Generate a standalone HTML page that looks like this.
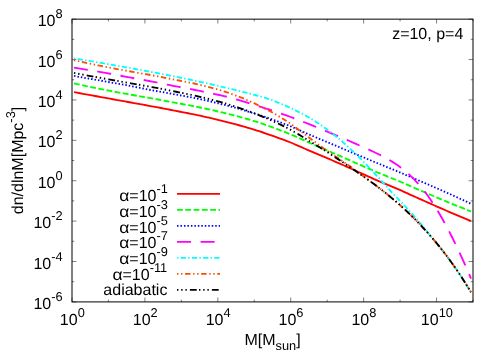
<!DOCTYPE html>
<html><head><meta charset="utf-8"><title>plot</title>
<style>
html,body{margin:0;padding:0;background:#fff;}
body{width:500px;height:350px;overflow:hidden;font-family:"Liberation Sans",sans-serif;}
svg{display:block;will-change:transform;}
text{font-family:"Liberation Sans",sans-serif;fill:#000;text-rendering:geometricPrecision;}
</style></head><body>
<svg width="500" height="350" viewBox="0 0 500 350">
<rect x="0" y="0" width="500" height="350" fill="#fff"/>
<path d="M72.00,301.90 v-4.40 M72.00,19.15 v4.40 M108.45,301.90 v-2.30 M108.45,19.15 v2.30 M144.91,301.90 v-4.40 M144.91,19.15 v4.40 M181.36,301.90 v-2.30 M181.36,19.15 v2.30 M217.82,301.90 v-4.40 M217.82,19.15 v4.40 M254.27,301.90 v-2.30 M254.27,19.15 v2.30 M290.73,301.90 v-4.40 M290.73,19.15 v4.40 M327.18,301.90 v-2.30 M327.18,19.15 v2.30 M363.64,301.90 v-4.40 M363.64,19.15 v4.40 M400.09,301.90 v-2.30 M400.09,19.15 v2.30 M436.55,301.90 v-4.40 M436.55,19.15 v4.40 M473.00,301.90 v-2.30 M473.00,19.15 v2.30 M72.00,19.15 h4.40 M473.00,19.15 h-4.40 M72.00,39.35 h2.30 M473.00,39.35 h-2.30 M72.00,59.54 h4.40 M473.00,59.54 h-4.40 M72.00,79.74 h2.30 M473.00,79.74 h-2.30 M72.00,99.94 h4.40 M473.00,99.94 h-4.40 M72.00,120.13 h2.30 M473.00,120.13 h-2.30 M72.00,140.33 h4.40 M473.00,140.33 h-4.40 M72.00,160.53 h2.30 M473.00,160.53 h-2.30 M72.00,180.72 h4.40 M473.00,180.72 h-4.40 M72.00,200.92 h2.30 M473.00,200.92 h-2.30 M72.00,221.11 h4.40 M473.00,221.11 h-4.40 M72.00,241.31 h2.30 M473.00,241.31 h-2.30 M72.00,261.51 h4.40 M473.00,261.51 h-4.40 M72.00,281.70 h2.30 M473.00,281.70 h-2.30 M72.00,301.90 h4.40 M473.00,301.90 h-4.40" stroke="#000" stroke-width="0.5" fill="none"/>
<clipPath id="c"><rect x="72.00" y="19.15" width="401.00" height="282.75"/></clipPath>
<g clip-path="url(#c)" fill="none" stroke-linecap="butt" stroke-linejoin="round">
<path d="M74.00,92.12 L77.00,92.70 L80.00,93.26 L83.00,93.82 L86.00,94.37 L89.00,94.92 L92.00,95.46 L95.00,95.99 L98.00,96.52 L101.00,97.05 L104.00,97.61 L107.00,98.16 L110.00,98.71 L113.00,99.26 L116.00,99.80 L119.00,100.34 L122.00,100.89 L125.00,101.43 L128.00,101.97 L131.00,102.51 L134.00,103.05 L137.00,103.60 L140.00,104.14 L143.00,104.69 L146.00,105.24 L149.00,105.80 L152.00,106.35 L155.00,106.90 L158.00,107.46 L161.00,108.02 L164.00,108.59 L167.00,109.17 L170.00,109.75 L173.00,110.34 L176.00,110.92 L179.00,111.49 L182.00,112.06 L185.00,112.65 L188.00,113.24 L191.00,113.84 L194.00,114.46 L197.00,115.08 L200.00,115.72 L203.00,116.38 L206.00,117.04 L209.00,117.72 L212.00,118.41 L215.00,119.12 L218.00,119.84 L221.00,120.58 L224.00,121.33 L227.00,122.09 L230.00,122.85 L233.00,123.63 L236.00,124.43 L239.00,125.25 L242.00,126.08 L245.00,126.94 L248.00,127.81 L251.00,128.71 L254.00,129.62 L257.00,130.54 L260.00,131.49 L263.00,132.50 L266.00,133.52 L269.00,134.56 L272.00,135.61 L275.00,136.68 L278.00,137.76 L281.00,138.86 L284.00,139.98 L287.00,141.10 L290.00,142.24 L293.00,143.52 L296.00,144.80 L299.00,146.10 L302.00,147.41 L305.00,148.74 L308.00,150.07 L311.00,151.38 L314.00,152.62 L317.00,153.87 L320.00,155.13 L323.00,156.40 L326.00,157.68 L329.00,158.96 L332.00,160.26 L335.00,161.56 L338.00,162.87 L341.00,164.19 L344.00,165.52 L347.00,166.85 L350.00,168.18 L353.00,169.53 L356.00,170.87 L359.00,172.22 L362.00,173.58 L365.00,174.94 L368.00,176.30 L371.00,177.67 L374.00,179.04 L377.00,180.33 L380.00,181.58 L383.00,182.83 L386.00,184.08 L389.00,185.33 L392.00,186.58 L395.00,187.83 L398.00,189.08 L401.00,190.45 L404.00,191.81 L407.00,193.18 L410.00,194.54 L413.00,195.89 L416.00,197.25 L419.00,198.60 L422.00,199.94 L425.00,201.28 L428.00,202.62 L431.00,203.95 L434.00,205.27 L437.00,206.59 L440.00,207.90 L443.00,209.20 L446.00,210.50 L449.00,211.79 L452.00,213.07 L455.00,214.34 L458.00,215.60 L461.00,216.85 L464.00,218.09 L467.00,219.32 L470.00,220.54 L471.00,220.94" stroke="#ff0000" stroke-width="1.85"/>
<path d="M74.00,83.40 L77.00,84.09 L80.00,84.76 L83.00,85.42 L86.00,86.06 L89.00,86.69 L92.00,87.30 L95.00,87.90 L98.00,88.49 L101.00,89.08 L104.00,89.68 L107.00,90.27 L110.00,90.86 L113.00,91.43 L116.00,92.00 L119.00,92.56 L122.00,93.11 L125.00,93.66 L128.00,94.19 L131.00,94.72 L134.00,95.25 L137.00,95.77 L140.00,96.29 L143.00,96.81 L146.00,97.33 L149.00,97.85 L152.00,98.39 L155.00,98.95 L158.00,99.51 L161.00,100.08 L164.00,100.65 L167.00,101.22 L170.00,101.80 L173.00,102.39 L176.00,102.96 L179.00,103.49 L182.00,104.03 L185.00,104.58 L188.00,105.14 L191.00,105.71 L194.00,106.30 L197.00,106.89 L200.00,107.50 L203.00,108.12 L206.00,108.76 L209.00,109.42 L212.00,110.09 L215.00,110.77 L218.00,111.48 L221.00,112.20 L224.00,112.94 L227.00,113.67 L230.00,114.40 L233.00,115.15 L236.00,115.92 L239.00,116.71 L242.00,117.53 L245.00,118.37 L248.00,119.24 L251.00,120.13 L254.00,121.04 L257.00,121.97 L260.00,122.92 L263.00,123.96 L266.00,125.01 L269.00,126.09 L272.00,127.18 L275.00,128.29 L278.00,129.42 L281.00,130.56 L284.00,131.72 L287.00,132.89 L290.00,134.07 L293.00,135.39 L296.00,136.72 L299.00,138.06 L302.00,139.41 L305.00,140.77 L308.00,142.14 L311.00,143.48 L314.00,144.75 L317.00,146.03 L320.00,147.32 L323.00,148.61 L326.00,149.90 L329.00,151.21 L332.00,152.51 L335.00,153.82 L338.00,155.13 L341.00,156.44 L344.00,157.76 L347.00,159.08 L350.00,160.40 L353.00,161.73 L356.00,163.05 L359.00,164.38 L362.00,165.70 L365.00,167.03 L368.00,168.36 L371.00,169.69 L374.00,171.02 L377.00,172.27 L380.00,173.48 L383.00,174.68 L386.00,175.89 L389.00,177.09 L392.00,178.30 L395.00,179.50 L398.00,180.70 L401.00,182.01 L404.00,183.33 L407.00,184.64 L410.00,185.94 L413.00,187.25 L416.00,188.55 L419.00,189.85 L422.00,191.14 L425.00,192.43 L428.00,193.71 L431.00,194.99 L434.00,196.27 L437.00,197.54 L440.00,198.80 L443.00,200.06 L446.00,201.31 L449.00,202.56 L452.00,203.80 L455.00,205.03 L458.00,206.26 L461.00,207.48 L464.00,208.69 L467.00,209.90 L470.00,211.09 L471.00,211.49" stroke="#00ff00" stroke-width="1.85" stroke-dasharray="5.8 2.5" stroke-dashoffset="0"/>
<path d="M74.00,75.94 L77.00,76.49 L80.00,77.04 L83.00,77.58 L86.00,78.11 L89.00,78.63 L92.00,79.15 L95.00,79.66 L98.00,80.17 L101.00,80.68 L104.00,81.22 L107.00,81.75 L110.00,82.28 L113.00,82.81 L116.00,83.33 L119.00,83.86 L122.00,84.38 L125.00,84.90 L128.00,85.50 L131.00,86.10 L134.00,86.69 L137.00,87.29 L140.00,87.90 L143.00,88.50 L146.00,89.11 L149.00,89.73 L152.00,90.27 L155.00,90.79 L158.00,91.31 L161.00,91.84 L164.00,92.37 L167.00,92.92 L170.00,93.47 L173.00,94.03 L176.00,94.58 L179.00,95.11 L182.00,95.65 L185.00,96.20 L188.00,96.76 L191.00,97.33 L194.00,97.91 L197.00,98.51 L200.00,99.12 L203.00,99.77 L206.00,100.44 L209.00,101.12 L212.00,101.81 L215.00,102.52 L218.00,103.25 L221.00,103.99 L224.00,104.75 L227.00,105.53 L230.00,106.33 L233.00,107.14 L236.00,107.98 L239.00,108.84 L242.00,109.72 L245.00,110.61 L248.00,111.53 L251.00,112.46 L254.00,113.38 L257.00,114.32 L260.00,115.28 L263.00,116.25 L266.00,117.24 L269.00,118.25 L272.00,119.31 L275.00,120.41 L278.00,121.52 L281.00,122.64 L284.00,123.78 L287.00,124.93 L290.00,126.09 L293.00,127.38 L296.00,128.69 L299.00,130.00 L302.00,131.32 L305.00,132.66 L308.00,134.00 L311.00,135.31 L314.00,136.54 L317.00,137.78 L320.00,139.03 L323.00,140.29 L326.00,141.55 L329.00,142.81 L332.00,144.08 L335.00,145.35 L338.00,146.62 L341.00,147.90 L344.00,149.17 L347.00,150.46 L350.00,151.74 L353.00,152.99 L356.00,154.24 L359.00,155.49 L362.00,156.75 L365.00,158.00 L368.00,159.26 L371.00,160.51 L374.00,161.77 L377.00,163.01 L380.00,164.24 L383.00,165.46 L386.00,166.69 L389.00,167.91 L392.00,169.14 L395.00,170.36 L398.00,171.58 L401.00,172.87 L404.00,174.15 L407.00,175.43 L410.00,176.71 L413.00,178.00 L416.00,179.28 L419.00,180.56 L422.00,181.85 L425.00,183.14 L428.00,184.44 L431.00,185.73 L434.00,187.04 L437.00,188.35 L440.00,189.66 L443.00,190.99 L446.00,192.32 L449.00,193.66 L452.00,195.01 L455.00,196.37 L458.00,197.74 L461.00,199.12 L464.00,200.51 L467.00,201.92 L470.00,203.34 L471.00,203.82" stroke="#0000ff" stroke-width="1.85" stroke-dasharray="1.5 1.975" stroke-dashoffset="0"/>
<path d="M74.00,67.67 L77.00,68.15 L80.00,68.64 L83.00,69.12 L86.00,69.60 L89.00,70.08 L92.00,70.57 L95.00,71.05 L98.00,71.54 L101.00,72.05 L104.00,72.61 L107.00,73.17 L110.00,73.74 L113.00,74.30 L116.00,74.87 L119.00,75.45 L122.00,76.02 L125.00,76.60 L128.00,77.14 L131.00,77.68 L134.00,78.22 L137.00,78.77 L140.00,79.32 L143.00,79.88 L146.00,80.44 L149.00,81.01 L152.00,81.59 L155.00,82.17 L158.00,82.76 L161.00,83.35 L164.00,83.95 L167.00,84.56 L170.00,85.17 L173.00,85.80 L176.00,86.39 L179.00,86.93 L182.00,87.48 L185.00,88.04 L188.00,88.60 L191.00,89.18 L194.00,89.76 L197.00,90.35 L200.00,90.96 L203.00,91.57 L206.00,92.19 L209.00,92.83 L212.00,93.47 L215.00,94.13 L218.00,94.75 L221.00,95.39 L224.00,96.03 L227.00,96.79 L230.00,97.62 L233.00,98.46 L236.00,99.31 L239.00,100.17 L242.00,101.05 L245.00,101.94 L248.00,102.84 L251.00,103.76 L254.00,104.70 L257.00,105.64 L260.00,106.61 L263.00,107.55 L266.00,108.51 L269.00,109.49 L272.00,110.48 L275.00,111.48 L278.00,112.51 L281.00,113.54 L284.00,114.60 L287.00,115.67 L290.00,116.75 L293.00,117.87 L296.00,119.00 L299.00,120.15 L302.00,121.31 L305.00,122.49 L308.00,123.67 L311.00,124.87 L314.00,126.09 L317.00,127.31 L320.00,128.55 L323.00,129.80 L326.00,131.06 L329.00,132.34 L332.00,133.59 L335.00,134.85 L338.00,136.11 L341.00,137.38 L344.00,138.67 L347.00,139.96 L350.00,141.27 L353.00,142.58 L356.00,143.90 L359.00,145.23 L362.00,146.57 L365.00,147.92 L368.00,149.28 L371.00,150.65 L374.00,152.03 L377.00,153.46 L380.00,154.94 L383.00,156.49 L386.00,158.10 L389.00,159.81 L392.00,161.61 L395.00,163.53 L398.00,165.57 L401.00,167.76 L404.00,170.10 L407.00,172.61 L410.00,175.30 L413.00,178.19 L416.00,181.28 L419.00,184.60 L422.00,188.16 L425.00,191.96 L428.00,196.02 L431.00,200.34 L434.00,204.90 L437.00,209.70 L440.00,214.73 L443.00,219.98 L446.00,225.45 L449.00,231.13 L452.00,237.01 L455.00,243.09 L458.00,249.36 L461.00,255.81 L464.00,262.44 L467.00,269.23 L470.00,276.18 L471.00,278.54" stroke="#ff00ff" stroke-width="1.85" stroke-dasharray="14 9.6" stroke-dashoffset="0"/>
<path d="M74.00,58.34 L77.00,58.84 L80.00,59.35 L83.00,59.86 L86.00,60.37 L89.00,60.89 L92.00,61.40 L95.00,61.91 L98.00,62.43 L101.00,62.94 L104.00,63.46 L107.00,63.98 L110.00,64.50 L113.00,65.03 L116.00,65.56 L119.00,66.08 L122.00,66.62 L125.00,67.15 L128.00,67.69 L131.00,68.23 L134.00,68.77 L137.00,69.32 L140.00,69.87 L143.00,70.42 L146.00,70.98 L149.00,71.54 L152.00,72.11 L155.00,72.67 L158.00,73.25 L161.00,73.83 L164.00,74.41 L167.00,75.00 L170.00,75.59 L173.00,76.19 L176.00,76.79 L179.00,77.40 L182.00,78.02 L185.00,78.64 L188.00,79.26 L191.00,79.89 L194.00,80.53 L197.00,81.18 L200.00,81.83 L203.00,82.48 L206.00,83.15 L209.00,83.82 L212.00,84.50 L215.00,85.18 L218.00,85.88 L221.00,86.58 L224.00,87.28 L227.00,88.00 L230.00,88.72 L233.00,89.46 L236.00,90.20 L239.00,90.94 L242.00,91.70 L245.00,92.47 L248.00,93.25 L251.00,94.02 L254.00,94.76 L257.00,95.52 L260.00,96.30 L263.00,97.11 L266.00,98.02 L269.00,99.09 L272.00,100.19 L275.00,101.33 L278.00,102.52 L281.00,103.75 L284.00,105.03 L287.00,106.35 L290.00,107.74 L293.00,109.18 L296.00,110.65 L299.00,112.13 L302.00,113.67 L305.00,115.28 L308.00,116.97 L311.00,118.72 L314.00,120.55 L317.00,122.46 L320.00,124.44 L323.00,126.50 L326.00,128.64 L329.00,130.86 L332.00,133.16 L335.00,135.53 L338.00,137.99 L341.00,140.53 L344.00,143.15 L347.00,145.85 L350.00,148.63 L353.00,151.41 L356.00,154.26 L359.00,157.19 L362.00,160.18 L365.00,163.24 L368.00,166.36 L371.00,169.54 L374.00,172.78 L377.00,176.01 L380.00,179.27 L383.00,182.56 L386.00,185.91 L389.00,189.30 L392.00,192.72 L395.00,195.73 L398.00,198.79 L401.00,201.90 L404.00,205.07 L407.00,208.30 L410.00,211.59 L413.00,214.94 L416.00,218.37 L419.00,221.86 L422.00,225.44 L425.00,229.10 L428.00,232.84 L431.00,236.53 L434.00,240.03 L437.00,243.63 L440.00,247.33 L443.00,251.13 L446.00,255.03 L449.00,259.05 L452.00,263.18 L455.00,267.43 L458.00,271.80 L461.00,276.30 L464.00,280.92 L467.00,285.68 L470.00,290.57 L471.00,292.23" stroke="#00ffff" stroke-width="1.85" stroke-dasharray="5.2 2.3 1.4 2.3" stroke-dashoffset="7.5"/>
<path d="M74.00,60.16 L77.00,60.87 L80.00,61.56 L83.00,62.22 L86.00,62.87 L89.00,63.50 L92.00,64.12 L95.00,64.71 L98.00,65.30 L101.00,65.88 L104.00,66.49 L107.00,67.08 L110.00,67.66 L113.00,68.24 L116.00,68.80 L119.00,69.36 L122.00,69.92 L125.00,70.47 L128.00,71.00 L131.00,71.53 L134.00,72.06 L137.00,72.59 L140.00,73.12 L143.00,73.65 L146.00,74.19 L149.00,74.73 L152.00,75.28 L155.00,75.83 L158.00,76.39 L161.00,76.96 L164.00,77.54 L167.00,78.13 L170.00,78.73 L173.00,79.35 L176.00,79.94 L179.00,80.49 L182.00,81.06 L185.00,81.64 L188.00,82.25 L191.00,82.87 L194.00,83.51 L197.00,84.18 L200.00,84.87 L203.00,85.59 L206.00,86.33 L209.00,87.09 L212.00,87.89 L215.00,88.71 L218.00,89.57 L221.00,90.45 L224.00,91.37 L227.00,92.36 L230.00,93.41 L233.00,94.49 L236.00,95.61 L239.00,96.76 L242.00,97.96 L245.00,99.19 L248.00,100.47 L251.00,101.79 L254.00,103.15 L257.00,104.56 L260.00,106.02 L263.00,107.52 L266.00,109.07 L269.00,110.66 L272.00,112.31 L275.00,114.01 L278.00,115.76 L281.00,117.57 L284.00,119.43 L287.00,121.35 L290.00,123.32 L293.00,125.47 L296.00,127.67 L299.00,129.91 L302.00,132.19 L305.00,134.49 L308.00,136.80 L311.00,139.09 L314.00,141.31 L317.00,143.52 L320.00,145.71 L323.00,147.88 L326.00,150.01 L329.00,152.10 L332.00,154.14 L335.00,156.15 L338.00,158.13 L341.00,160.11 L344.00,162.11 L347.00,164.19 L350.00,166.34 L353.00,168.52 L356.00,170.73 L359.00,172.96 L362.00,175.16 L365.00,177.36 L368.00,179.59 L371.00,181.85 L374.00,184.08 L377.00,186.32 L380.00,188.59 L383.00,190.91 L386.00,193.28 L389.00,195.71 L392.00,198.18 L395.00,200.71 L398.00,203.29 L401.00,205.95 L404.00,208.70 L407.00,211.51 L410.00,214.38 L413.00,217.31 L416.00,220.32 L419.00,223.40 L422.00,226.56 L425.00,229.79 L428.00,233.12 L431.00,236.53 L434.00,240.03 L437.00,243.63 L440.00,247.33 L443.00,251.13 L446.00,255.03 L449.00,259.05 L452.00,263.18 L455.00,267.43 L458.00,271.80 L461.00,276.30 L464.00,280.92 L467.00,285.68 L470.00,290.57 L471.00,292.23" stroke="#ff4d00" stroke-width="1.85" stroke-dasharray="5.4 2.65 1.4 2.65 1.4 2.6" stroke-dashoffset="8.05"/>
<path d="M74.00,72.92 L77.00,73.51 L80.00,74.10 L83.00,74.67 L86.00,75.23 L89.00,75.79 L92.00,76.34 L95.00,76.88 L98.00,77.41 L101.00,77.95 L104.00,78.51 L107.00,79.06 L110.00,79.62 L113.00,80.16 L116.00,80.71 L119.00,81.25 L122.00,81.79 L125.00,82.33 L128.00,82.85 L131.00,83.37 L134.00,83.89 L137.00,84.41 L140.00,84.94 L143.00,85.47 L146.00,86.00 L149.00,86.54 L152.00,87.09 L155.00,87.64 L158.00,88.20 L161.00,88.77 L164.00,89.34 L167.00,89.93 L170.00,90.52 L173.00,91.13 L176.00,91.73 L179.00,92.31 L182.00,92.91 L185.00,93.53 L188.00,94.15 L191.00,94.79 L194.00,95.45 L197.00,96.13 L200.00,96.82 L203.00,97.52 L206.00,98.25 L209.00,98.99 L212.00,99.76 L215.00,100.54 L218.00,101.35 L221.00,102.18 L224.00,103.03 L227.00,103.92 L230.00,104.85 L233.00,105.80 L236.00,106.77 L239.00,107.78 L242.00,108.80 L245.00,109.86 L248.00,110.94 L251.00,112.06 L254.00,113.20 L257.00,114.37 L260.00,115.57 L263.00,116.81 L266.00,118.07 L269.00,119.37 L272.00,120.70 L275.00,122.07 L278.00,123.47 L281.00,124.90 L284.00,126.38 L287.00,127.89 L290.00,129.43 L293.00,131.14 L296.00,132.88 L299.00,134.66 L302.00,136.47 L305.00,138.32 L308.00,140.19 L311.00,142.06 L314.00,143.88 L317.00,145.72 L320.00,147.59 L323.00,149.47 L326.00,151.37 L329.00,153.29 L332.00,155.22 L335.00,157.16 L338.00,159.13 L341.00,161.10 L344.00,163.10 L347.00,165.12 L350.00,167.16 L353.00,169.23 L356.00,171.32 L359.00,173.44 L362.00,175.53 L365.00,177.61 L368.00,179.74 L371.00,181.89 L374.00,184.08 L377.00,186.32 L380.00,188.59 L383.00,190.91 L386.00,193.28 L389.00,195.71 L392.00,198.18 L395.00,200.71 L398.00,203.29 L401.00,205.95 L404.00,208.70 L407.00,211.51 L410.00,214.38 L413.00,217.31 L416.00,220.32 L419.00,223.40 L422.00,226.56 L425.00,229.79 L428.00,233.12 L431.00,236.53 L434.00,240.03 L437.00,243.63 L440.00,247.33 L443.00,251.13 L446.00,255.03 L449.00,259.05 L452.00,263.18 L455.00,267.43 L458.00,271.80 L461.00,276.30 L464.00,280.92 L467.00,285.68 L470.00,290.57 L471.00,292.23" stroke="#000000" stroke-width="1.85" stroke-dasharray="6.8 2.3 1.4 2.8 1.4 2.8 1.4 3.1" stroke-dashoffset="9.1"/>
</g>
<rect x="72.00" y="19.15" width="401.00" height="282.75" fill="none" stroke="#000" stroke-width="1.0"/>
<text x="62.60" y="26.15" font-size="16.0" text-anchor="end">10<tspan font-size="12.8" dy="-8.0">8</tspan></text>
<text x="62.60" y="66.54" font-size="16.0" text-anchor="end">10<tspan font-size="12.8" dy="-8.0">6</tspan></text>
<text x="62.60" y="106.94" font-size="16.0" text-anchor="end">10<tspan font-size="12.8" dy="-8.0">4</tspan></text>
<text x="62.60" y="147.33" font-size="16.0" text-anchor="end">10<tspan font-size="12.8" dy="-8.0">2</tspan></text>
<text x="62.60" y="187.72" font-size="16.0" text-anchor="end">10<tspan font-size="12.8" dy="-8.0">0</tspan></text>
<text x="62.60" y="228.11" font-size="16.0" text-anchor="end">10<tspan font-size="12.8" dy="-8.0">-2</tspan></text>
<text x="62.60" y="268.51" font-size="16.0" text-anchor="end">10<tspan font-size="12.8" dy="-8.0">-4</tspan></text>
<text x="62.60" y="308.90" font-size="16.0" text-anchor="end">10<tspan font-size="12.8" dy="-8.0">-6</tspan></text>
<text x="72.30" y="325.00" font-size="16.0" text-anchor="middle">10<tspan font-size="12.8" dy="-8.0">0</tspan></text>
<text x="145.21" y="325.00" font-size="16.0" text-anchor="middle">10<tspan font-size="12.8" dy="-8.0">2</tspan></text>
<text x="218.12" y="325.00" font-size="16.0" text-anchor="middle">10<tspan font-size="12.8" dy="-8.0">4</tspan></text>
<text x="291.03" y="325.00" font-size="16.0" text-anchor="middle">10<tspan font-size="12.8" dy="-8.0">6</tspan></text>
<text x="363.94" y="325.00" font-size="16.0" text-anchor="middle">10<tspan font-size="12.8" dy="-8.0">8</tspan></text>
<text x="436.85" y="325.00" font-size="16.0" text-anchor="middle">10<tspan font-size="12.8" dy="-8.0">10</tspan></text>
<text x="463.3" y="38.5" font-size="16.0" text-anchor="end">z=10, p=4</text>
<text x="272.5" y="345.0" font-size="16.0" text-anchor="middle">M[M<tspan font-size="12.8" dy="4.8">sun</tspan><tspan dy="-4.8" font-size="16.0">]</tspan></text>
<text transform="translate(23.1,160.5) rotate(-90)" font-size="16.0" text-anchor="middle">dn/dlnM[Mpc<tspan font-size="12.8" dy="-8.0">-3</tspan><tspan dy="8.0" font-size="16.0">]</tspan></text>
<path d="M177.00,193.90 H220.00" stroke="#ff0000" stroke-width="1.85" fill="none"/>
<text x="167.90" y="200.70" font-size="16.0" text-anchor="end"><tspan textLength="10.1" lengthAdjust="spacingAndGlyphs">α</tspan>=10<tspan font-size="12.8" dy="-8.0">-1</tspan></text>
<path d="M177.00,209.90 H220.00" stroke="#00ff00" stroke-width="1.85" fill="none" stroke-dasharray="5.8 2.5" stroke-dashoffset="0"/>
<text x="167.90" y="216.70" font-size="16.0" text-anchor="end"><tspan textLength="10.1" lengthAdjust="spacingAndGlyphs">α</tspan>=10<tspan font-size="12.8" dy="-8.0">-3</tspan></text>
<path d="M177.00,225.90 H220.00" stroke="#0000ff" stroke-width="1.85" fill="none" stroke-dasharray="1.5 1.975" stroke-dashoffset="0"/>
<text x="167.90" y="232.65" font-size="16.0" text-anchor="end"><tspan textLength="10.1" lengthAdjust="spacingAndGlyphs">α</tspan>=10<tspan font-size="12.8" dy="-8.0">-5</tspan></text>
<path d="M177.00,241.90 H220.00" stroke="#ff00ff" stroke-width="1.85" fill="none" stroke-dasharray="14 9.6" stroke-dashoffset="0"/>
<text x="167.90" y="248.40" font-size="16.0" text-anchor="end"><tspan textLength="10.1" lengthAdjust="spacingAndGlyphs">α</tspan>=10<tspan font-size="12.8" dy="-8.0">-7</tspan></text>
<path d="M177.00,257.90 H220.00" stroke="#00ffff" stroke-width="1.85" fill="none" stroke-dasharray="5.2 2.3 1.4 2.3" stroke-dashoffset="7.5"/>
<text x="167.90" y="264.10" font-size="16.0" text-anchor="end"><tspan textLength="10.1" lengthAdjust="spacingAndGlyphs">α</tspan>=10<tspan font-size="12.8" dy="-8.0">-9</tspan></text>
<path d="M177.00,273.90 H220.00" stroke="#ff4d00" stroke-width="1.85" fill="none" stroke-dasharray="5.4 2.65 1.4 2.65 1.4 2.6" stroke-dashoffset="8.05"/>
<text x="167.20" y="279.70" font-size="16.0" text-anchor="end"><tspan textLength="10.1" lengthAdjust="spacingAndGlyphs">α</tspan>=10<tspan font-size="12.8" dy="-8.0">-11</tspan></text>
<path d="M177.00,289.90 H220.00" stroke="#000000" stroke-width="1.85" fill="none" stroke-dasharray="6.8 2.3 1.4 2.8 1.4 2.8 1.4 3.1" stroke-dashoffset="9.1"/>
<text x="167.40" y="294.50" font-size="16.0" text-anchor="end">adiabatic</text>
</svg>
</body></html>
